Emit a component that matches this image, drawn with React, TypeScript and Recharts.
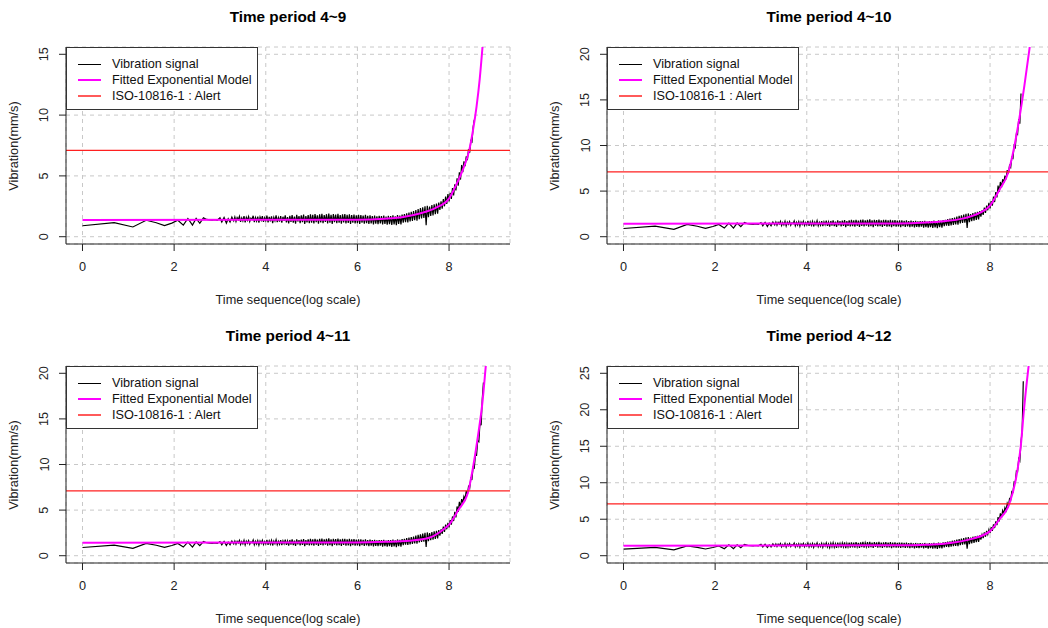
import React from "react";
import {
  CartesianGrid,
  Line,
  LineChart,
  ReferenceLine,
  XAxis,
  YAxis,
} from "recharts";

const FONT = '"Liberation Sans", Arial, Helvetica, sans-serif';
const FS = 12.7;

// sparse start of the signal (log of the first samples)
const earlyX = [
  0, 0.69, 1.1, 1.39, 1.61, 1.79, 1.95, 2.08, 2.2, 2.3, 2.4, 2.48, 2.56,
  2.64, 2.71, 2.77, 2.83, 2.89, 2.94, 3.0, 3.04, 3.09, 3.14, 3.18, 3.22, 3.26,
];
const earlyV = [
  0.9, 1.15, 0.8, 1.35, 1.15, 0.92, 1.12, 1.35, 0.95, 1.5, 0.95, 1.5, 1.1,
  1.55, 1.42, 1.38, 1.36, 1.4, 1.35, 1.55, 1.2, 1.58, 1.12, 1.48, 1.2, 1.62,
];

// dense part of the signal, sampled on a regular log-time grid
const bandStart = 3.3;
const bandStep = 0.025;
const bandV = [
  1.3, 1.62, 1.25, 1.58, 1.4, 1.68, 1.22, 1.55, 1.3, 1.7,
  1.18, 1.6, 1.35, 1.66, 1.25, 1.52, 1.42, 1.72, 1.2, 1.58,
  1.28, 1.65, 1.15, 1.62, 1.35, 1.7, 1.22, 1.56, 1.3, 1.74,
  1.18, 1.63, 1.26, 1.68, 1.12, 1.6, 1.32, 1.75, 1.2, 1.58,
  1.25, 1.7, 1.15, 1.64, 1.3, 1.76, 1.18, 1.62,
  1.1, 1.72, 1.22, 1.78, 1.15, 1.66, 1.08, 1.8, 1.25, 1.7,
  1.12, 1.76, 1.2, 1.82, 1.05, 1.7, 1.18, 1.78, 1.12, 1.84,
  1.15, 1.8, 1.1, 1.86, 1.2, 1.76, 1.08, 1.84, 1.18, 1.88,
  1.12, 1.78, 1.22, 1.85, 1.1, 1.9, 1.16, 1.8, 1.06, 1.86,
  1.2, 1.82, 1.12, 1.88, 1.15, 1.78, 1.08, 1.84, 1.18, 1.86,
  1.1, 1.8, 1.14, 1.85, 1.05, 1.78, 1.16, 1.82, 1.1, 1.76,
  1.12, 1.8, 1.06, 1.78, 1.15, 1.74, 1.08, 1.8, 1.12, 1.72,
  1.05, 1.76, 1.1, 1.7, 1.02, 1.74, 1.08, 1.68, 1.04, 1.72,
  1.1, 1.7, 1.0, 1.74, 1.06, 1.66, 0.98, 1.72, 1.04, 1.7,
  0.96, 1.76, 1.02, 1.68, 0.95, 1.78, 1.05, 1.74, 1.0, 1.82,
  1.15, 1.86, 1.2, 1.92, 1.18, 1.98, 1.25, 2.05, 1.3, 2.1,
  1.35, 2.2, 1.32, 2.28, 1.45, 2.35, 1.5, 2.42, 1.55, 2.5,
  0.95, 2.55, 1.6, 2.48, 1.7, 2.6, 1.75, 2.66, 1.85, 2.72,
  1.9, 2.8,
];

// rising tail of each period, starting at x = 7.8
const tailStart = 7.8;
const tail49 = [
  2.2, 2.9, 2.3, 3.1, 2.5, 3.3, 2.7, 3.5, 2.9, 3.6, 3.1, 4.0, 3.4, 4.3, 3.8,
  4.8, 4.2, 5.3, 4.7, 5.9, 5.3, 6.2, 5.8, 6.6, 6.3, 7.2, 6.9, 7.9, 7.8, 9.0,
  9.6,
];
const tail410 = [
  2.2, 2.9, 2.4, 3.2, 2.6, 3.4, 2.9, 3.7, 3.1, 3.9, 3.4, 4.4, 3.8, 4.9, 4.3,
  5.6, 4.9, 6.0, 5.4, 6.3, 5.9, 6.7, 6.3, 7.3, 6.9, 7.8, 7.6, 8.7, 8.6, 10.0,
  9.8, 11.3, 11.2, 12.9, 12.4, 15.7,
];
const tail411 = [
  2.2, 2.9, 2.4, 3.2, 2.6, 3.4, 2.9, 3.6, 3.1, 3.9, 3.4, 4.3, 3.8, 4.8, 4.2,
  5.4, 4.8, 5.9, 5.3, 6.2, 5.8, 6.5, 6.2, 7.1, 6.7, 7.6, 7.4, 8.5, 8.4, 9.7,
  9.6, 11.0, 11.0, 12.6, 12.5, 14.6, 14.3, 17.2, 19.0,
];
const tail412 = [
  2.2, 2.9, 2.4, 3.2, 2.6, 3.4, 2.9, 3.6, 3.1, 3.9, 3.4, 4.3, 3.8, 4.7, 4.2,
  5.3, 4.7, 5.8, 5.2, 6.2, 5.8, 6.6, 6.2, 7.2, 6.8, 7.8, 7.6, 8.8, 8.7, 10.1,
  10.0, 11.6, 11.5, 13.3, 13.0, 15.6, 17.0, 23.9,
];

// fitted exponential models
const fit49X = [0, 6.0, 6.6, 7.0, 7.4, 7.7, 8.0, 8.16, 8.31, 8.44, 8.52, 8.6, 8.67, 8.73, 8.78];
const fit49V = [1.38, 1.4, 1.48, 1.62, 1.95, 2.35, 3.15, 4.3, 5.6, 7.1, 8.7, 10.7, 13.0, 15.6, 18.0];
const fit410X = [0, 6.0, 6.6, 7.0, 7.4, 7.77, 8.0, 8.2, 8.4, 8.53, 8.64, 8.75, 8.86, 8.92];
const fit410V = [1.42, 1.45, 1.55, 1.7, 1.98, 2.6, 3.4, 5.1, 7.09, 9.9, 13.0, 16.6, 20.6, 23.0];
const fit411X = [0, 6.0, 6.6, 7.14, 7.58, 7.87, 8.0, 8.2, 8.42, 8.52, 8.63, 8.73, 8.8, 8.86];
const fit411V = [1.42, 1.45, 1.52, 1.65, 2.0, 2.85, 3.4, 5.0, 7.07, 9.6, 13.1, 16.9, 20.7, 24.0];
const fit412X = [0, 6.0, 6.6, 7.0, 7.6, 8.0, 8.2, 8.42, 8.56, 8.67, 8.74, 8.84, 8.9];
const fit412V = [1.37, 1.42, 1.5, 1.65, 2.3, 3.37, 4.96, 7.1, 10.4, 15.0, 20.0, 25.9, 29.0];

const alertLevel = 7.1;
const xTicks = [0, 2, 4, 6, 8];
const titles = ["Time period 4~9", "Time period 4~10", "Time period 4~11", "Time period 4~12"];
const yMaxes = [15, 20, 20, 25];
const yTickSets = [
  [0, 5, 10, 15],
  [0, 5, 10, 15, 20],
  [0, 5, 10, 15, 20],
  [0, 5, 10, 15, 20, 25],
];
const legendItems = [
  { label: "Vibration signal", color: "#000000", width: 1 },
  { label: "Fitted Exponential Model", color: "#ff00ff", width: 2 },
  { label: "ISO-10816-1 : Alert", color: "#ff5a5a", width: 2 },
];

const signal = (tail: number[]) => [
  ...earlyX.map((x, i) => ({ x, v: earlyV[i] })),
  ...bandV.map((v, i) => ({ x: bandStart + i * bandStep, v })),
  ...tail.map((v, i) => ({ x: tailStart + i * bandStep, v })),
];
const fit = (xs: number[], vs: number[]) => xs.map((x, i) => ({ x, v: vs[i] }));

const panels = [
  { signal: signal(tail49), fit: fit(fit49X, fit49V) },
  { signal: signal(tail410), fit: fit(fit410X, fit410V) },
  { signal: signal(tail411), fit: fit(fit411X, fit411V) },
  { signal: signal(tail412), fit: fit(fit412X, fit412V) },
];

const W = 541;
const H = 319;
const M = { top: 47, right: 31, bottom: 0, left: 0 };
const Y_W = 66;
const X_H = 75;

const YTick = (props: any) => {
  const { x, y, payload } = props;
  return (
    <text
      x={x}
      y={y}
      dy={4.5}
      textAnchor="middle"
      transform={`rotate(-90 ${x} ${y})`}
      fontSize={FS}
      fontFamily={FONT}
      fill="#222"
    >
      {payload.value}
    </text>
  );
};

const Panel = ({ idx }: { idx: number }) => {
  const p = panels[idx];
  const yMax = yMaxes[idx];
  const plotW = W - Y_W - M.right;
  const plotH = H - M.top - X_H;
  return (
    <div
      style={{
        position: "absolute",
        left: (idx % 2) * W,
        top: Math.floor(idx / 2) * H,
        width: W,
        height: H,
        fontFamily: FONT,
      }}
    >
      <LineChart width={W} height={H} margin={M}>
        <CartesianGrid stroke="#c8c8c8" strokeDasharray="4 4" />
        <XAxis
          type="number"
          dataKey="x"
          domain={[-0.36, 9.33]}
          ticks={xTicks}
          interval={0}
          height={X_H}
          tickSize={7}
          tickMargin={11}
          allowDataOverflow
          axisLine={{ stroke: "#222" }}
          tickLine={{ stroke: "#222" }}
          tick={{ fontSize: FS, fill: "#222", fontFamily: FONT }}
        />
        <XAxis
          xAxisId="top"
          orientation="top"
          type="number"
          domain={[-0.36, 9.33]}
          height={0}
          tick={false}
          tickLine={false}
          axisLine={{ stroke: "#222" }}
        />
        <YAxis
          type="number"
          domain={[-0.04 * yMax, 1.04 * yMax]}
          ticks={yTickSets[idx]}
          interval={0}
          width={Y_W}
          tickSize={7}
          tickMargin={15}
          allowDataOverflow
          axisLine={{ stroke: "#222" }}
          tickLine={{ stroke: "#222" }}
          tick={<YTick />}
        />
        <YAxis
          yAxisId="right"
          orientation="right"
          width={0}
          tick={false}
          tickLine={false}
          axisLine={{ stroke: "#222" }}
        />
        <Line
          data={p.signal}
          dataKey="v"
          type="linear"
          stroke="#000"
          strokeWidth={1.2}
          dot={false}
          isAnimationActive={false}
        />
        <Line
          data={p.fit}
          dataKey="v"
          type="monotone"
          stroke="#ff00ff"
          strokeWidth={2}
          dot={false}
          isAnimationActive={false}
        />
        <ReferenceLine y={alertLevel} stroke="#ff2020" strokeWidth={1.2} />
      </LineChart>

      <div
        style={{
          position: "absolute",
          left: Y_W,
          width: plotW,
          top: 9,
          lineHeight: "16px",
          textAlign: "center",
          fontWeight: "bold",
          fontSize: 15.3,
          color: "#000",
        }}
      >
        {titles[idx]}
      </div>
      <div
        style={{
          position: "absolute",
          left: Y_W,
          width: plotW,
          top: 292,
          lineHeight: "16px",
          textAlign: "center",
          fontSize: FS,
          color: "#222",
        }}
      >
        Time sequence(log scale)
      </div>
      <div
        style={{
          position: "absolute",
          left: 14,
          top: M.top + plotH / 2,
          transform: "translate(-50%, -50%) rotate(-90deg)",
          whiteSpace: "nowrap",
          lineHeight: "14px",
          fontSize: FS,
          color: "#222",
        }}
      >
        Vibration(mm/s)
      </div>
      <div
        style={{
          position: "absolute",
          left: Y_W,
          top: M.top,
          width: 192,
          height: 63,
          boxSizing: "border-box",
          border: "1px solid #333",
          background: "#fff",
        }}
      >
        {legendItems.map((it, i) => (
          <div
            key={it.label}
            style={{
              position: "absolute",
              left: 0,
              top: 8 + i * 16,
              height: 16,
              width: 190,
            }}
          >
            <div
              style={{
                position: "absolute",
                left: 11,
                top: 8 - it.width / 2,
                width: 23,
                height: it.width,
                background: it.color,
              }}
            />
            <div
              style={{
                position: "absolute",
                left: 45,
                top: 0,
                lineHeight: "16px",
                fontSize: FS,
                color: "#111",
                whiteSpace: "nowrap",
              }}
            >
              {it.label}
            </div>
          </div>
        ))}
      </div>
    </div>
  );
};

export default function App() {
  return (
    <div
      style={{
        position: "fixed",
        left: 0,
        top: 0,
        width: 1048,
        height: 628,
        overflow: "hidden",
        background: "#fff",
      }}
    >
      {[0, 1, 2, 3].map((i) => (
        <Panel key={i} idx={i} />
      ))}
    </div>
  );
}
